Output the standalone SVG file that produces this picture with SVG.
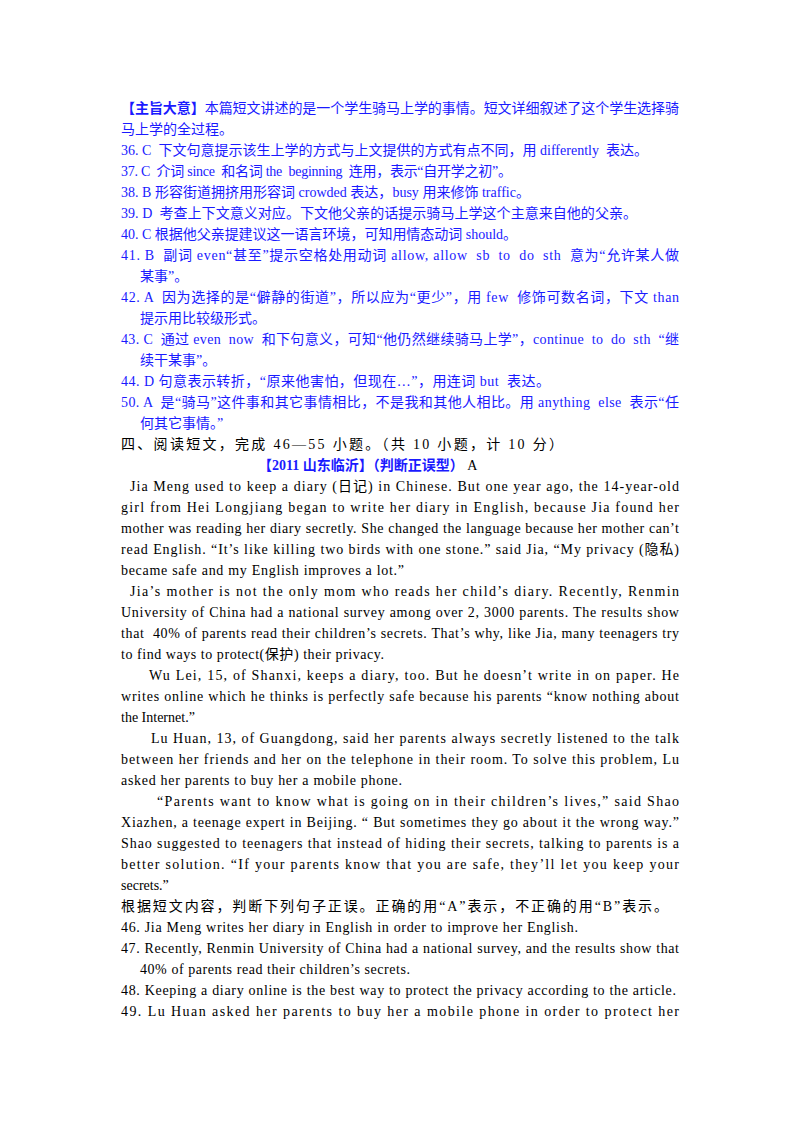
<svg xmlns="http://www.w3.org/2000/svg" width="800" height="1132" viewBox="0 0 800 1132">
<style>
text{font-family:"Liberation Serif","Noto Sans CJK SC",serif;font-size:14px;fill:#000;white-space:pre}
.b{fill:#1a1aff}
.bd{font-weight:bold}
</style>
<rect width="800" height="1132" fill="#fff"/>
<g id="answers" class="b">
<text class="b" x="121" y="113" textLength="558" lengthAdjust="spacing"><tspan class="bd">【主旨大意】</tspan>本篇短文讲述的是一个学生骑马上学的事情。短文详细叙述了这个学生选择骑</text>
<text class="b" x="121" y="134">马上学的全过程。</text>
<text class="b" x="121" y="155" textLength="527" lengthAdjust="spacing">36. C  下文句意提示该生上学的方式与上文提供的方式有点不同，用 differently  表达。</text>
<text class="b" x="121" y="176" textLength="391" lengthAdjust="spacing">37. C  介词 since  和名词 the  beginning  连用，表示“自开学之初”。</text>
<text class="b" x="121" y="197" textLength="409" lengthAdjust="spacing">38. B 形容街道拥挤用形容词 crowded 表达，busy 用来修饰 traffic。</text>
<text class="b" x="121" y="218" textLength="516" lengthAdjust="spacing">39. D  考查上下文意义对应。下文他父亲的话提示骑马上学这个主意来自他的父亲。</text>
<text class="b" x="121" y="239" textLength="396" lengthAdjust="spacing">40. C 根据他父亲提建议这一语言环境，可知用情态动词 should。</text>
<text class="b" x="121" y="260" textLength="558" lengthAdjust="spacing">41. B  副词 even“甚至”提示空格处用动词 allow, allow  sb  to  do  sth  意为“允许某人做</text>
<text class="b" x="140" y="281">某事”。</text>
<text class="b" x="121" y="302" textLength="558" lengthAdjust="spacing">42. A  因为选择的是“僻静的街道”，所以应为“更少”，用 few  修饰可数名词，下文 than</text>
<text class="b" x="140" y="323">提示用比较级形式。</text>
<text class="b" x="121" y="344" textLength="558" lengthAdjust="spacing">43. C  通过 even  now  和下句意义，可知“他仍然继续骑马上学”，continue  to  do  sth  “继</text>
<text class="b" x="140" y="365">续干某事”。</text>
<text class="b" x="121" y="386" textLength="429" lengthAdjust="spacing">44. D 句意表示转折，“原来他害怕，但现在…”，用连词 but  表达。</text>
<text class="b" x="121" y="407" textLength="558" lengthAdjust="spacing">50. A  是“骑马”这件事和其它事情相比，不是我和其他人相比。用 anything  else  表示“任</text>
<text class="b" x="140" y="428">何其它事情。”</text>
</g>
<g id="section">
<text x="121" y="449" textLength="442" lengthAdjust="spacing">四、阅读短文，完成 46—55 小题。（共 10 小题，计 10 分）</text>
<text x="258" y="470"><tspan class="b bd">【2011 山东临沂】（判断正误型）</tspan> A</text>
</g>
<g id="passage">
<text x="130" y="491" textLength="549" lengthAdjust="spacing">Jia Meng used to keep a diary (日记) in Chinese. But one year ago, the 14-year-old</text>
<text x="121" y="512" textLength="558" lengthAdjust="spacing">girl from Hei Longjiang began to write her diary in English, because Jia found her</text>
<text x="121" y="533" textLength="558" lengthAdjust="spacing">mother was reading her diary secretly. She changed the language because her mother can’t</text>
<text x="121" y="554" textLength="558" lengthAdjust="spacing">read English. “It’s like killing two birds with one stone.” said Jia, “My privacy (隐私)</text>
<text x="121" y="575" textLength="283" lengthAdjust="spacing">became safe and my English improves a lot.”</text>
<text x="130" y="596" textLength="549" lengthAdjust="spacing">Jia’s mother is not the only mom who reads her child’s diary. Recently, Renmin</text>
<text x="121" y="617" textLength="558" lengthAdjust="spacing">University of China had a national survey among over 2, 3000 parents. The results show</text>
<text x="121" y="638" textLength="558" lengthAdjust="spacing">that  40% of parents read their children’s secrets. That’s why, like Jia, many teenagers try</text>
<text x="121" y="659" textLength="263" lengthAdjust="spacing">to find ways to protect(保护) their privacy.</text>
<text x="149" y="680" textLength="530" lengthAdjust="spacing">Wu Lei, 15, of Shanxi, keeps a diary, too. But he doesn’t write in on paper. He</text>
<text x="121" y="701" textLength="558" lengthAdjust="spacing">writes online which he thinks is perfectly safe because his parents “know nothing about</text>
<text x="121" y="722">the Internet.”</text>
<text x="151" y="743" textLength="528" lengthAdjust="spacing">Lu Huan, 13, of Guangdong, said her parents always secretly listened to the talk</text>
<text x="121" y="764" textLength="558" lengthAdjust="spacing">between her friends and her on the telephone in their room. To solve this problem, Lu</text>
<text x="121" y="785" textLength="281" lengthAdjust="spacing">asked her parents to buy her a mobile phone.</text>
<text x="157" y="806" textLength="522" lengthAdjust="spacing">“Parents want to know what is going on in their children’s lives,” said Shao</text>
<text x="121" y="827" textLength="558" lengthAdjust="spacing">Xiazhen, a teenage expert in Beijing. “ But sometimes they go about it the wrong way.”</text>
<text x="121" y="848" textLength="558" lengthAdjust="spacing">Shao suggested to teenagers that instead of hiding their secrets, talking to parents is a</text>
<text x="121" y="869" textLength="558" lengthAdjust="spacing">better solution. “If your parents know that you are safe, they’ll let you keep your</text>
<text x="121" y="890">secrets.”</text>
</g>
<g id="questions">
<text x="121" y="911" textLength="547" lengthAdjust="spacing">根据短文内容，判断下列句子正误。正确的用“A”表示，不正确的用“B”表示。</text>
<text x="121" y="932" textLength="457" lengthAdjust="spacing">46. Jia Meng writes her diary in English in order to improve her English.</text>
<text x="121" y="953" textLength="558" lengthAdjust="spacing">47. Recently, Renmin University of China had a national survey, and the results show that</text>
<text x="140" y="974" textLength="270" lengthAdjust="spacing">40% of parents read their children’s secrets.</text>
<text x="121" y="995" textLength="555" lengthAdjust="spacing">48. Keeping a diary online is the best way to protect the privacy according to the article.</text>
<text x="121" y="1016" textLength="558" lengthAdjust="spacing">49. Lu Huan asked her parents to buy her a mobile phone in order to protect her</text>
</g>
<g id="connectors"/>
</svg>
